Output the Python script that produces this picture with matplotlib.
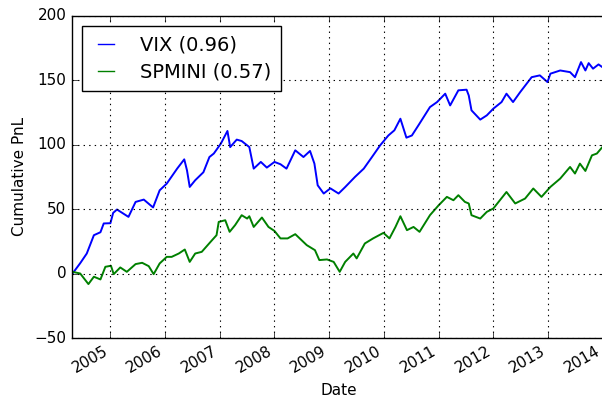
import matplotlib
matplotlib.use('Agg')
import matplotlib.pyplot as plt
import matplotlib.dates as mdates
import pandas as pd

# values (decimal year, cumulative PnL)
vix_t = [2004.31, 2004.45, 2004.57, 2004.70, 2004.82, 2004.88, 2005.00, 2005.05, 2005.12,
         2005.33, 2005.46, 2005.61, 2005.78, 2005.90, 2006.03, 2006.22, 2006.35, 2006.40,
         2006.45, 2006.55, 2006.70, 2006.81, 2006.89, 2007.02, 2007.14, 2007.19, 2007.31,
         2007.40, 2007.54, 2007.62, 2007.75, 2007.86, 2008.00, 2008.11, 2008.22, 2008.38,
         2008.53, 2008.65, 2008.73, 2008.79, 2008.90, 2009.02, 2009.17, 2009.29, 2009.47,
         2009.63, 2009.78, 2009.93, 2010.08, 2010.19, 2010.30, 2010.41, 2010.51, 2010.63,
         2010.84, 2010.97, 2011.12, 2011.21, 2011.36, 2011.51, 2011.55, 2011.60, 2011.76,
         2011.88, 2012.00, 2012.15, 2012.24, 2012.36, 2012.49, 2012.70, 2012.85, 2012.99,
         2013.04, 2013.22, 2013.40, 2013.49, 2013.60, 2013.68, 2013.74, 2013.82, 2013.92,
         2013.99]
vix_v = [0.0, 8.0, 15.5, 29.7, 32.0, 38.8, 39.0, 47.0, 49.6,
         43.9, 55.5, 57.3, 51.2, 64.5, 69.7, 81.3, 88.5, 80.0,
         67.1, 72.3, 78.5, 90.3, 93.0, 100.7, 110.5, 98.0, 103.8,
         102.7, 98.0, 81.3, 86.5, 82.1, 86.5, 84.7, 81.3, 95.5,
         90.3, 95.0, 85.2, 68.4, 62.0, 66.0, 62.0, 67.0, 74.9,
         81.3, 90.3, 99.4, 107.0, 111.0, 120.0, 105.3, 107.0, 114.9,
         129.0, 132.9, 139.4, 130.3, 142.0, 142.5, 138.0, 126.5, 119.3,
         122.6, 127.8, 132.9, 139.4, 132.9, 140.6, 152.2, 153.6, 148.4,
         154.9, 157.4, 156.1, 152.2, 163.9, 157.4, 163.1, 158.8, 162.1,
         160.0]

spm_t = [2004.31, 2004.45, 2004.60, 2004.70, 2004.82, 2004.91, 2005.01, 2005.06, 2005.18,
         2005.30, 2005.46, 2005.58, 2005.70, 2005.79, 2005.90, 2006.03, 2006.12, 2006.25,
         2006.36, 2006.45, 2006.55, 2006.67, 2006.83, 2006.94, 2006.98, 2007.10, 2007.18,
         2007.28, 2007.40, 2007.50, 2007.54, 2007.62, 2007.77, 2007.89, 2008.00, 2008.11,
         2008.24, 2008.38, 2008.59, 2008.74, 2008.82, 2008.96, 2009.08, 2009.19, 2009.29,
         2009.44, 2009.50, 2009.65, 2009.80, 2009.99, 2010.10, 2010.21, 2010.30, 2010.42,
         2010.54, 2010.65, 2010.84, 2011.00, 2011.15, 2011.27, 2011.36, 2011.48, 2011.55,
         2011.60, 2011.76, 2011.88, 2012.00, 2012.24, 2012.40, 2012.58, 2012.73, 2012.88,
         2013.04, 2013.22, 2013.40, 2013.49, 2013.58, 2013.68, 2013.80, 2013.89, 2013.99]
spm_v = [1.3, 0.0, -8.2, -2.5, -4.6, 5.2, 6.0, -0.5, 4.7,
         1.3, 7.3, 8.3, 5.7, -0.5, 7.8, 12.9, 12.9, 15.5,
         18.6, 9.0, 15.5, 16.8, 24.5, 29.7, 40.0, 41.3, 32.3,
         37.5, 45.2, 42.6, 44.4, 36.1, 43.4, 36.1, 33.0, 27.2,
         27.2, 30.5, 22.0, 18.1, 10.4, 10.9, 9.0, 1.3, 9.0,
         15.5, 11.7, 23.3, 27.2, 31.5, 27.2, 36.1, 44.4, 33.6,
         36.1, 32.3, 45.2, 52.9, 59.4, 56.8, 60.7, 55.5, 54.3,
         45.2, 42.6, 47.8, 50.4, 63.2, 54.3, 58.1, 65.9, 59.4,
         67.1, 73.6, 82.6, 77.5, 85.2, 79.5, 91.6, 93.0, 98.0]

labels = ['VIX (0.96)', 'SPMINI (0.57)']


def to_dates(years):
    out = []
    for y in years:
        y0 = int(y)
        start = pd.Timestamp(year=y0, month=1, day=1)
        out.append(start + pd.Timedelta(days=(y - y0) * 365.25))
    return out


plt.style.use('classic')
plt.rcParams['font.family'] = ['DejaVu Sans']

fig = plt.figure(figsize=(6.02, 4.01), dpi=100, facecolor='white')
ax = fig.add_axes([0.1196, 0.1571, 0.885, 0.8042])

ax.plot(to_dates(vix_t), vix_v, color='b', lw=1.4, label=labels[0])
ax.plot(to_dates(spm_t), spm_v, color='g', lw=1.4, label=labels[1])

ax.set_xlim(to_dates([2004.30])[0], to_dates([2014.035])[0])
ax.set_ylim(-50, 200)
ax.xaxis.set_major_locator(mdates.YearLocator())
ax.xaxis.set_major_formatter(mdates.DateFormatter('%Y'))
ax.grid(True, color='k', linestyle=':', lw=0.8)
ax.tick_params(labelsize=11)
for lab in ax.get_xticklabels():
    lab.set_rotation(30)
    lab.set_ha('right')

ax.set_xlabel('Date', fontsize=11)
ax.set_ylabel('Cumulative PnL', fontsize=11)

leg = ax.legend(loc='upper left', fontsize=14, fancybox=False, borderaxespad=0.52,
                handlelength=1.45, handletextpad=1.03, borderpad=0.5, labelspacing=0.43)
for line in leg.get_lines():
    line.set_linewidth(1.0)

fig.savefig('out.png', dpi=100, facecolor='white')
